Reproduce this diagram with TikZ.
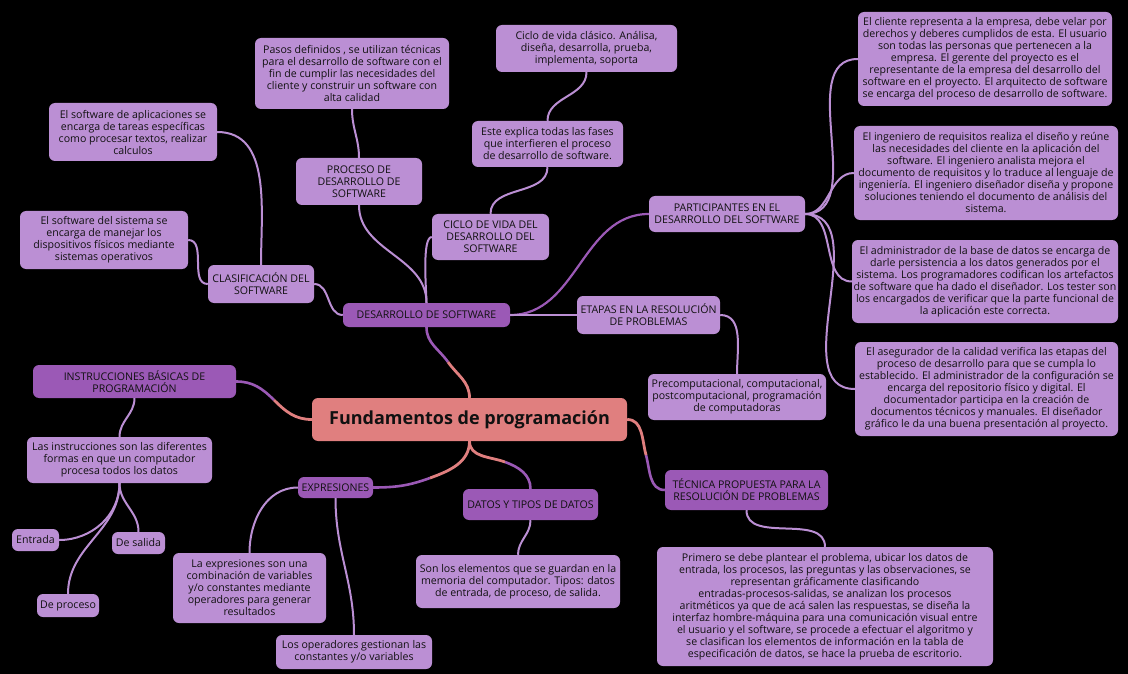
\documentclass[tikz,border=0pt]{standalone}
\usepackage{fontspec}
\setmainfont{Open Sans}
\definecolor{lp}{HTML}{BB8FD4}
\definecolor{dp}{HTML}{9B59B6}
\definecolor{sal}{HTML}{E07F7F}
\definecolor{txt}{HTML}{111111}
\begin{document}
\begin{tikzpicture}[x=1pt,y=-1pt,
  bx/.style={rounded corners=6pt, inner sep=0pt, align=center, text=txt,
    font=\fontsize{10.6}{12}\selectfont},
  lbox/.style={bx, fill=lp},
  dbox/.style={bx, fill=dp},
  cbox/.style={bx, fill=sal, font=\fontsize{18}{20}\selectfont\bfseries},
  lline/.style={draw=lp, line width=2pt},
  dline/.style={draw=dp, line width=2.6pt},
  sline/.style={draw=sal, line width=2.8pt}
]
\fill[black] (0,0) rectangle (1128,674);
\useasboundingbox (0,0) rectangle (1128,674);

% central
\node[cbox, minimum width=315pt, minimum height=43pt] (cen) at (469.5,419.5) {Fundamentos de programación};

% desarrollo branch
\node[dbox, minimum width=167pt, minimum height=24pt] (des) at (426.5,315) {DESARROLLO DE SOFTWARE};
\node[lbox, minimum width=106pt, minimum height=38pt] (clas) at (261,284) {CLASIFICACIÓN DEL\\SOFTWARE};
\node[lbox, minimum width=168pt, minimum height=58pt] (apl) at (133,132) {El software de aplicaciones se\\encarga de tareas específicas\\como procesar textos, realizar\\calculos};
\node[lbox, minimum width=168pt, minimum height=58pt] (sis) at (104,240) {El software del sistema se\\encarga de manejar los\\dispositivos físicos mediante\\sistemas operativos};
\node[lbox, minimum width=126pt, minimum height=47pt] (pro) at (359,181.5) {PROCESO DE\\DESARROLLO DE\\SOFTWARE};
\node[lbox, minimum width=194pt, minimum height=71pt] (pas) at (352,73.5) {Pasos definidos , se utilizan técnicas\\para el desarrollo de software con el\\fin de cumplir las necesidades del\\cliente y construir un software con\\alta calidad};
\node[lbox, minimum width=117pt, minimum height=46pt] (cic) at (490.5,237) {CICLO DE VIDA DEL\\DESARROLLO DEL\\SOFTWARE};
\node[lbox, minimum width=151pt, minimum height=46pt] (est) at (547.5,144) {Este explica todas las fases\\que interfieren el proceso\\de desarrollo de software.};
\node[lbox, minimum width=181pt, minimum height=47pt] (cla) at (586.5,48.5) {Ciclo de vida clásico. Análisa,\\diseña, desarrolla, prueba,\\implementa, soporta};
\node[lbox, minimum width=156pt, minimum height=36pt] (par) at (727,214) {PARTICIPANTES EN EL\\DESARROLLO DEL SOFTWARE};
\node[lbox, minimum width=143pt, minimum height=38pt] (eta) at (648.5,315) {ETAPAS EN LA RESOLUCIÓN\\DE PROBLEMAS};
\node[lbox, minimum width=178pt, minimum height=46pt] (pre) at (737,397) {Precomputacional, computacional,\\postcomputacional, programación\\de computadoras};
\node[lbox, minimum width=254pt, minimum height=94pt] (p1) at (985,59) {El cliente representa a la empresa, debe velar por\\derechos y deberes cumplidos de esta. El usuario\\son todas las personas que pertenecen a la\\empresa. El gerente del proyecto es el\\representante de la empresa del desarrollo del\\software en el proyecto. El arquitecto de software\\se encarga del proceso de desarrollo de software.};
\node[lbox, minimum width=264pt, minimum height=94pt] (p2) at (986,173) {El ingeniero de requisitos realiza el diseño y reúne\\las necesidades del cliente en la aplicación del\\software. El ingeniero analista mejora el\\documento de requisitos y lo traduce al lenguaje de\\ingeniería. El ingeniero diseñador diseña y propone\\soluciones teniendo el documento de análisis del\\sistema.};
\node[lbox, minimum width=266pt, minimum height=83pt] (p3) at (985,281.5) {El administrador de la base de datos se encarga de\\darle persistencia a los datos generados por el\\sistema. Los programadores codifican los artefactos\\de software que ha dado el diseñador. Los tester son\\los encargados de verificar que la parte funcional de\\la aplicación este correcta.};
\node[lbox, minimum width=263pt, minimum height=94pt] (p4) at (986.5,389) {El asegurador de la calidad verifica las etapas del\\proceso de desarrollo para que se cumpla lo\\establecido. El administrador de la configuración se\\encarga del repositorio físico y digital. El\\documentador participa en la creación de\\documentos técnicos y manuales. El diseñador\\gráfico le da una buena presentación al proyecto.};

% instrucciones branch
\node[dbox, minimum width=203pt, minimum height=33pt] (ins) at (134.5,381.5) {INSTRUCCIONES BÁSICAS DE\\PROGRAMACIÓN};
\node[lbox, minimum width=185pt, minimum height=46pt] (las) at (119.5,460) {Las instrucciones son las diferentes\\formas en que un computador\\procesa todos los datos};
\node[lbox, minimum width=47pt, minimum height=22pt] (ent) at (35.5,540) {Entrada};
\node[lbox, minimum width=53pt, minimum height=22pt] (sal) at (138.5,543) {De salida};
\node[lbox, minimum width=62pt, minimum height=23pt] (dpr) at (68,605.5) {De proceso};

% expresiones branch
\node[dbox, minimum width=75pt, minimum height=21pt] (exp) at (335.5,487.5) {EXPRESIONES};
\node[lbox, minimum width=153pt, minimum height=70pt] (lae) at (249.5,588) {La expresiones son una\\combinación de variables\\y/o constantes mediante\\operadores para generar\\resultados};
\node[lbox, minimum width=156pt, minimum height=34pt] (ope) at (354,652) {Los operadores gestionan las\\constantes y/o variables};

% datos branch
\node[dbox, minimum width=135pt, minimum height=31pt] (dat) at (530.5,504.5) {DATOS Y TIPOS DE DATOS};
\node[lbox, minimum width=204pt, minimum height=53pt] (son) at (518,581.5) {Son los elementos que se guardan en la\\memoria del computador. Tipos: datos\\de entrada, de proceso, de salida.};

% tecnica branch
\node[dbox, minimum width=163pt, minimum height=40pt] (tec) at (746.5,490) {TÉCNICA PROPUESTA PARA LA\\RESOLUCIÓN DE PROBLEMAS};
\node[lbox, minimum width=336pt, minimum height=119pt] (pri) at (825,606.5) {Primero se debe plantear el problema, ubicar los datos de\\entrada, los procesos, las preguntas y las observaciones, se\\representan gráficamente clasificando\\entradas-procesos-salidas, se analizan los procesos\\aritméticos ya que de acá salen las respuestas, se diseña la\\interfaz hombre-máquina para una comunicación visual entre\\el usuario y el software, se procede a efectuar el algoritmo y\\se clasifican los elementos de información en la tabla de\\especificación de datos, se hace la prueba de escritorio.};

% midpoints for two-colour connectors from the centre
\coordinate (m1) at (448,362);
\coordinate (m2) at (274,400);
\coordinate (m3) at (430,478);
\coordinate (m4) at (505,462);
\coordinate (m5) at (646,455);

% centre connectors
\draw[dline] (des.south) to[out=-90,in=125] (m1);
\draw[sline] (m1) to[out=-55,in=90] (cen.north);
\draw[dline] (ins.east) to[out=0,in=135] (m2);
\draw[sline] (m2) to[out=-45,in=180] (cen.west);
\draw[dline] (exp.east) to[out=0,in=200] (m3);
\draw[sline] (m3) to[out=20,in=-90] (cen.south);
\draw[dline] (dat.north) to[out=90,in=-20] (m4);
\draw[sline] (m4) to[out=160,in=-90] (cen.south);
\draw[dline] (tec.west) to[out=180,in=-75] (m5);
\draw[sline] (m5) to[out=105,in=0] (cen.east);

% desarrollo children
\draw[lline] (clas.east) to[out=0,in=180] (des.west);
\draw[lline] (pro.south) to[out=-90,in=90] (des.north);
\draw[lline] (des.north) to[out=90,in=180,looseness=0.4] (cic.west);
\draw[dline, line width=2.2pt] (des.east) to[out=0,in=180] (par.west);
\draw[lline] (des.east) -- (eta.west);
\draw[lline] (clas.north) to[out=90,in=0] (apl.east);
\draw[lline] (sis.east) to[out=0,in=180] (clas.west);
\draw[lline] (pro.north) to[out=90,in=-90] (pas.south);
\draw[lline] (cic.north) to[out=90,in=-90] (est.south);
\draw[lline] (est.north) to[out=90,in=-90] (cla.south);
\draw[lline] (par.east) to[out=0,in=180] (p1.west);
\draw[lline] (par.east) to[out=0,in=180] (p2.west);
\draw[lline] (par.east) to[out=0,in=180] (p3.west);
\draw[lline] (par.east) to[out=0,in=180] (p4.west);
\draw[lline] (eta.east) to[out=0,in=90] (pre.north);

% instrucciones children
\draw[lline] (ins.south) to[out=-90,in=90] (las.north);
\draw[lline] (las.south) to[out=-90,in=0] (ent.east);
\draw[lline] (las.south) to[out=-90,in=90] (sal.north);
\draw[lline] (las.south) to[out=-90,in=90] (dpr.north);

% expresiones children
\draw[lline] (exp.west) to[out=180,in=90] (lae.north);
\draw[lline] (exp.south) to[out=-90,in=90] (ope.north);

% datos, tecnica
\draw[lline] (dat.south) to[out=-90,in=90] (son.north);
\draw[lline] (tec.south) to[out=-90,in=90] (pri.north);
\end{tikzpicture}
\end{document}
